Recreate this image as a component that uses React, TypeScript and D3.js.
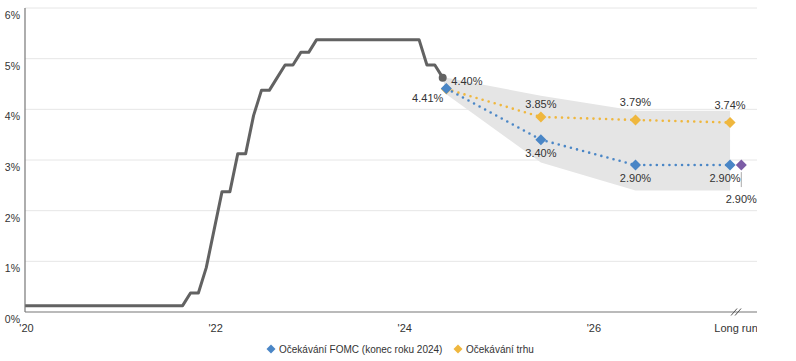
import React from "react";
import * as d3 from "d3";

// ---- Data ----
const rateMonths = [
  "2020-07","2020-08","2020-09","2020-10","2020-11","2020-12",
  "2021-01","2021-02","2021-03","2021-04","2021-05","2021-06",
  "2021-07","2021-08","2021-09","2021-10","2021-11","2021-12",
  "2022-01","2022-02","2022-03","2022-04","2022-05","2022-06",
  "2022-07","2022-08","2022-09","2022-10","2022-11","2022-12",
  "2023-01","2023-02","2023-03","2023-04","2023-05","2023-06",
  "2023-07","2023-08","2023-09","2023-10","2023-11","2023-12",
  "2024-01","2024-02","2024-03","2024-04","2024-05","2024-06",
  "2024-07","2024-08","2024-09","2024-10","2024-11","2024-12",
];
const rateValues = [
  0.125,0.125,0.125,0.125,0.125,0.125,
  0.125,0.125,0.125,0.125,0.125,0.125,
  0.125,0.125,0.125,0.125,0.125,0.125,
  0.125,0.125,0.125,0.375,0.375,0.875,
  1.625,2.375,2.375,3.125,3.125,3.875,
  4.375,4.375,4.625,4.875,4.875,5.125,
  5.125,5.375,5.375,5.375,5.375,5.375,
  5.375,5.375,5.375,5.375,5.375,5.375,
  5.375,5.375,5.375,4.875,4.875,4.625,
];

const forecastDates = ["2024-12-15", "2025-12-15", "2026-12-15", "2027-12-15"];
const fomcValues = [4.41, 3.4, 2.9, 2.9];
const marketValues = [4.4, 3.85, 3.79, 3.74];
const fomcLabels = ["4.41%", "3.40%", "2.90%", "2.90%"];
const marketLabels = ["4.40%", "3.85%", "3.79%", "3.74%"];
const longRunMedianDate = "2028-01-28";
const longRunMedianValue = 2.9;
const longRunMedianLabel = "2.90%";

// range band (dates & bounds)
const bandDates = ["2024-12-01", "2024-12-15", "2025-12-15", "2026-12-15", "2027-12-15"];
const bandUpper = [4.625, 4.625, 4.27, 3.97, 3.97];
const bandLower = [4.625, 4.3, 2.95, 2.4, 2.4];

const yTicks = [0, 1, 2, 3, 4, 5, 6];
const xTickDates = ["2020-07-01", "2022-07-01", "2024-07-01", "2026-07-01"];
const xTickLabels = ["'20", "'22", "'24", "'26"];
const longRunTickDate = "2027-12-15";
const longRunTickLabel = "Long run";

const legendItems = ["Očekávání FOMC (konec roku 2024)", "Očekávání trhu"];

// ---- helpers ----
function toYear(s: string): number {
  const [y, m, d] = s.split("-").map(Number);
  return y + (m - 1) / 12 + ((d || 1) - 1) / 365;
}

const W = 796;
const H = 361;
const left = 25;
const right = 757;
const top = 8;
const bottom = 312;

const BLUE = "#4a86c6";
const YELLOW = "#efb73e";
const PURPLE = "#7b5ca6";
const GRAY = "#626262";
const FONT = "'Liberation Sans', Arial, sans-serif";

const diamond = (s: number) => `M0,${-s}L${s},0L0,${s}L${-s},0Z`;

export default function App() {
  const x = d3.scaleLinear().domain([2020.5, 2028.24]).range([left, right]);
  const y = d3.scaleLinear().domain([0, 6]).range([bottom, top]);

  const ratePts = rateMonths.map((m, i) => [x(toYear(m + "-01")), y(rateValues[i])] as [number, number]);
  const rateLine = d3.line<[number, number]>()(ratePts) || "";
  const last = ratePts[ratePts.length - 1];

  const fx = forecastDates.map((d) => x(toYear(d)));
  const fomcPts = fomcValues.map((v, i) => [fx[i], y(v)] as [number, number]);
  const mktPts = marketValues.map((v, i) => [fx[i], y(v)] as [number, number]);
  const dotLine = d3.line<[number, number]>();

  const bandArea =
    d3
      .area<number>()
      .x((_, i) => x(toYear(bandDates[i])))
      .y0((_, i) => y(bandLower[i]))
      .y1((_, i) => y(bandUpper[i]))(bandUpper) || "";

  const lrx = x(toYear(longRunMedianDate));
  const lry = y(longRunMedianValue);
  const lrTickX = x(toYear(longRunTickDate));

  const textStyle = { fontFamily: FONT, fill: "#333" } as const;

  return (
    <svg
      width={W}
      height={H}
      style={{ position: "absolute", left: 0, top: 0, background: "#fff" }}
    >
      <defs>
        <clipPath id="plotclip">
          <rect x={0} y={0} width={right} height={H} />
        </clipPath>
      </defs>
      {/* gridlines */}
      {yTicks.slice(1).map((t) => (
        <line key={t} x1={left} x2={right} y1={y(t)} y2={y(t)} stroke="#e6e6e6" strokeWidth={1} />
      ))}
      {/* band */}
      <path d={bandArea} fill="#e5e5e5" />
      {/* rate line */}
      <path d={rateLine} fill="none" stroke={GRAY} strokeWidth={3} strokeLinejoin="round" />
      <circle cx={last[0]} cy={last[1]} r={4} fill={GRAY} />
      {/* dotted lines */}
      <path
        d={dotLine(mktPts) || ""}
        fill="none"
        stroke={YELLOW}
        strokeWidth={2.6}
        strokeLinecap="round"
        strokeDasharray="0 6.3"
      />
      <path
        d={dotLine(fomcPts) || ""}
        fill="none"
        stroke={BLUE}
        strokeWidth={2.6}
        strokeLinecap="round"
        strokeDasharray="0 6.3"
      />
      {mktPts.map((p, i) => (
        <path key={"m" + i} d={diamond(5.5)} transform={`translate(${p[0]},${p[1]})`} fill={YELLOW} />
      ))}
      {fomcPts.map((p, i) => (
        <path key={"f" + i} d={diamond(5.5)} transform={`translate(${p[0]},${p[1]})`} fill={BLUE} />
      ))}
      <path d={diamond(5.5)} transform={`translate(${lrx},${lry})`} fill={PURPLE} />
      <line x1={lrx} x2={lrx} y1={lry + 7} y2={lry + 22} stroke="#aaa" strokeWidth={1} />

      {/* value labels */}
      <g style={textStyle} fontSize={11}>
        <text x={mktPts[0][0] + 5} y={mktPts[0][1] - 4}>{marketLabels[0]}</text>
        {mktPts.slice(1).map((p, i) => (
          <text key={"ml" + i} x={p[0]} y={i === 0 ? p[1] - 9 : p[1] - 14} textAnchor="middle">
            {marketLabels[i + 1]}
          </text>
        ))}
        <text x={fomcPts[0][0] - 3} y={fomcPts[0][1] + 13} textAnchor="end">{fomcLabels[0]}</text>
        {fomcPts.slice(1).map((p, i) => (
          <text key={"fl" + i} x={i === 2 ? p[0] - 5 : p[0]} y={p[1] + 17} textAnchor="middle">
            {fomcLabels[i + 1]}
          </text>
        ))}
        <text x={lrx} y={lry + 38} textAnchor="middle">{longRunMedianLabel}</text>
      </g>

      {/* axes */}
      <line x1={left} x2={left} y1={top} y2={bottom} stroke="#777" strokeWidth={1.2} />
      <line x1={left} x2={right} y1={bottom} y2={bottom} stroke="#777" strokeWidth={1.2} />
      <g stroke="#555" strokeWidth={1}>
        <line x1={lrTickX + 1} y1={bottom + 3.5} x2={lrTickX + 7} y2={bottom - 3.5} />
        <line x1={lrTickX + 5} y1={bottom + 3.5} x2={lrTickX + 11} y2={bottom - 3.5} />
      </g>

      {/* y tick labels */}
      <g style={textStyle} fontSize={10.5}>
        {yTicks.map((t) => (
          <text key={t} x={20} y={y(t) + 11} textAnchor="end">
            {t}%
          </text>
        ))}
      </g>
      {/* x tick labels */}
      <g style={textStyle} fontSize={11}>
        {xTickDates.map((d, i) => (
          <text key={d} x={x(toYear(d)) + 1.5} y={332} textAnchor="middle">
            {xTickLabels[i]}
          </text>
        ))}
        <text x={lrTickX + 6} y={332} textAnchor="middle" clipPath="url(#plotclip)">
          {longRunTickLabel}
        </text>
      </g>

      {/* legend */}
      <g style={textStyle} fontSize={10}>
        <path d={diamond(4.5)} transform="translate(271,349)" fill={BLUE} />
        <text x={279} y={352.5}>{legendItems[0]}</text>
        <path d={diamond(4.5)} transform="translate(458,349)" fill={YELLOW} />
        <text x={466} y={352.5}>{legendItems[1]}</text>
      </g>
    </svg>
  );
}
